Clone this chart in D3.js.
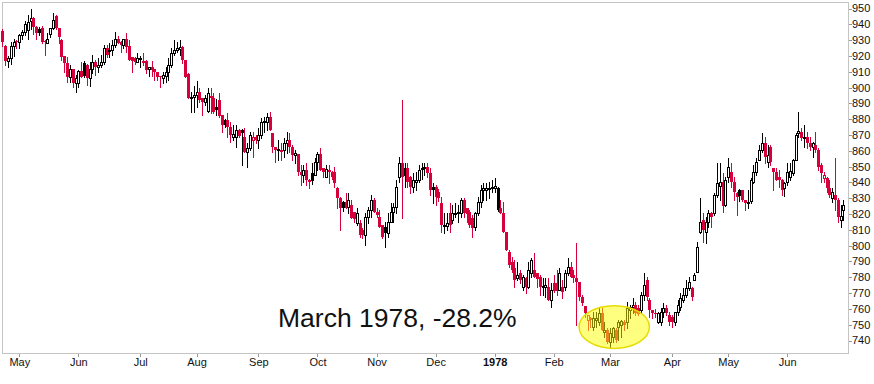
<!DOCTYPE html>
<meta charset="utf-8">
<head>
<style>
body { margin: 0; background: #fff; }
svg { display: block; font-family: "Liberation Sans", Arial, sans-serif; }
</style>
<script src="https://d3js.org/d3.v7.min.js"></script>
</head>
<body>
<svg id="chart" width="874" height="384"></svg>
<script>

// daily bars, [open, high, low, close], late Apr 1977 -> late Jun 1978
var prices = [
  [936,937,926,929],[926,927,914,917],[917,920,913,918.5],[918.5,929,915,926],[926,931,920,929],
  [929.5,930,925,928.5],[929,934,925,933],[933,936.5,931,935],[935,942,933,940.5],[936.5,946,931,941.5],
  [942,949.5,937,944],[944,944.5,934,938.5],[938.5,939,931,934.3],[937,938,933,934.5],[937.4,939,928.4,929],
  [929.5,930,920.6,928.5],[928,934.3,928,930.5],[933.7,937.4,932,937.4],[937.4,947.4,937,942.7],[945.3,946,937,937.4],
  [937.4,937.5,928,932.2],[930,930.5,917.4,919.5],[920,920,910,915.3],[915.3,919.5,903.7,906.9],[906.9,914.3,903.7,911.7],
  [911.5,912,900.6,902.7],[902.7,908,897.4,906],[902.7,911,900.6,910.5],[910.5,916.4,906.9,906.9],[915.7,916.5,906.5,907.5],
  [914,915,901.6,906],[906,916.4,901,912],[912,920.6,909,916.4],[916.4,917.4,908,913.2],[913.2,918.5,910,914.3],
  [914.3,920.6,913.2,916.4],[916.4,927,915,924.8],[924.8,927,919.5,920.6],[923,928,919.5,924],[923.8,930,920.6,927],
  [927,935.3,925.9,930.5],[930.5,932.6,928,928],[929,929.5,922.7,927],[927,931,925,931],[931,934.3,922.7,925.9],
  [926,930,917.4,917.4],[919.5,919.5,910,916.9],[919,919.5,915,916.4],[916.4,921.6,916,918.5],[918,920,913,918.8],
  [916.8,922,914.3,917],[917,917.4,909,911],[911.5,913.2,907,913.2],[913,917,907,911],[912,912,904.8,910],
  [910,910,904.8,906.9],[907.3,907.5,900.6,906.5],[906,910,903,908],[907.3,913.2,903.7,910],[910,918.5,904.8,914.3],
  [914.3,924.8,913.2,921.6],[921.6,930,920.6,923.8],[923.8,929,922.7,924.8],[924.3,930,920.6,925.9],[925.9,926,915.3,917.4],
  [917.4,917.5,906.9,906.9],[908.5,909,893.2,893.2],[893.2,897.4,884.8,894.2],[894.2,901,884.8,895.3],[895.3,904.3,887.9,897.4],
  [897.4,899.5,891,892.1],[893.2,893.2,882.6,891],[891,895,889,893.2],[885,899.5,884.8,896.3],[893.8,900,883.7,894.4],
  [893.2,896.3,883.7,884.7],[888,892.5,882.6,885.5],[892,896.3,881.6,882],[882.6,882.6,872,876.3],[879.5,880,875,876.5],
  [879.5,883.7,869,875.3],[875.3,878.4,865.8,870],[869,876.3,866.8,870.6],[869,876.3,862.6,873.1],[873.1,873.5,869,869.5],
  [873,873.5,851,871],[868.5,874.2,859.4,859.4],[859.4,864.7,850,861.6],[861.6,872.1,860.5,870],[866.8,872.1,856.3,868.9],
  [868.9,870,865,866.8],[866.8,874.2,861.6,870],[870,880.5,867.9,878.4],[878.4,881.6,872.1,878.6],[878.4,883.7,873.1,881.6],
  [881.6,884.7,873.1,873.1],[871,871,859.4,862.6],[862.6,862.6,853.1,860.5],[860.5,866.8,854.2,860.9],[860,864.7,854.2,860.8],
  [860.5,867.9,856.3,864.7],[864.7,872,858.4,866.8],[866.8,871,859.4,862.6],[862.6,863.7,854.2,857.3],[857.3,860.5,852.1,858.3],
  [857.9,858,844.7,846.8],[846.8,850.9,838.4,844.7],[844.7,850.9,840.5,847.8],[847.8,852,838.4,841.6],[841.6,842,836.3,840.5],
  [845.7,852,839,840.8],[845,855.2,844.7,852.6],[852.6,859.4,847.8,857.9],[857.9,861.5,847.8,847.8],[848.8,849,843.6,846.8],
  [843.6,851,843.6,848.3],[847.8,851,839.4,846.3],[846.8,847,842,843.6],[846.8,850,837.3,839.4],[836.3,837.3,823.7,830],
  [829.9,831,809.9,823.6],[827.8,828.5,822,823.8],[827.8,833.1,823.6,823.5],[824.6,833.1,820.4,828.9],[825.7,828.9,817.3,817.3],
  [821.5,821.5,815.1,817],[814.1,823.6,813,820.4],[814.1,816.2,805.7,806.7],[809.9,811,805,806.5],[806.7,820.4,800.4,818.3],
  [818.3,824.6,814.1,822.5],[822.5,832,818.3,828.9],[828.9,830,821.5,821.5],[821.5,823.6,818.3,819.4],[818.3,822.5,812,812],
  [813,813,804.6,805.7],[812,815.1,799.3,807.8],[807.8,820.4,805.7,815.1],[815.1,826.7,815.1,821.5],[821.5,826.7,815.1,824.6],
  [824.6,841.5,820.4,837.3],[843.6,856.3,840.5,852.1],[852.1,892.1,817.3,843.6],[848.9,852.1,837.3,844],[848.9,852.1,837.3,840.5],
  [843.6,844,833.1,837.3],[837.3,845.7,834.1,841.5],[840.5,846.7,835.2,841.6],[841.5,850.9,840.5,847.8],[848.3,852.1,842,848.9],
  [848.9,852.1,845,849.9],[849.9,852.1,843.6,845.7],[845.7,848.9,832,835],[837,839.4,826.7,835.5],[837.3,838.3,825.7,831],
  [834,836,828,830],[826.7,831,808.8,813],[812.6,820.4,807.8,813],[812.6,820.4,809.9,814.1],[820.4,826.7,808.8,813],
  [816.2,825.7,814.1,820.8],[820.4,826.7,818.3,820.9],[820.4,825.7,815.1,821],[820.4,829.9,818.3,828.9],[828.9,829.9,818.3,820.4],
  [823.6,823.6,815.1,820],[821.5,822.5,812,813],[817.3,819.4,805.7,810.9],[812,821.5,809.9,820.4],[820.4,831,819.4,827.8],
  [827.8,838.3,824.6,835.2],[835.2,839.4,828.9,836.2],[835.5,839.4,828.9,836.4],[836,840.5,829.9,836.5],[836.4,841.5,834.1,837],
  [836.3,843,834,837.5],[836.2,837,822,822.5],[823.6,828.9,820.4,820.4],[820.4,827.8,808.8,808.8],[808.8,808.8,797.2,797.2],
  [796.2,797.2,786.7,787.7],[789.9,793,783.5,784.6],[785.6,790.9,774,778.3],[779.3,789.9,778.3,781.4],[782.5,784.6,776.1,778.3],
  [774,781.4,771.9,780.4],[779.3,780.4,769.8,774],[774,789.9,773,784.6],[782.5,792,780.4,790.9],[784.6,795.1,780.4,780.4],
  [782.5,783,774,779],[780.4,781.4,768.8,774],[774,779.3,768.8,774.2],[774,779.3,767.7,775],[774,779.3,765.6,765.6],
  [765.6,776.1,761.4,771.9],[776.1,781.4,770.9,771.5],[776.1,784.6,768.8,771],[771.9,785.6,771.9,782.5],[774,778.3,766.7,770.9],
  [774,784.6,771.9,782.5],[782.5,792,781.4,786.5],[786.5,789.9,780.4,780.4],[781.4,784.6,777.2,779.3],[779.3,801.4,749.8,777.2],
  [777.2,777.2,765.6,767.7],[767.7,768.8,762.5,763.5],[761.9,762,755.1,757.2],[753,756.1,746.6,756],[754,755.1,748.8,753],
  [748.8,758.3,746.6,754],[753,758.3,748.8,754.2],[751.9,761.4,749.8,757.2],[757.2,760.4,746.6,746.6],[745.6,751.9,742.4,746.8],
  [746.6,747.7,738.2,739.3],[739.3,747.7,735.1,744.5],[742.4,748.8,739.3,747.7],[746.6,747.7,739.3,740.3],[748.8,753,740.3,751.9],
  [749.8,753,742.4,752.2],[751.9,753,746.6,749.8],[751.9,764.6,747.7,760.4],[759.3,762.5,754,761.4],[761.4,766.7,757.2,762.5],
  [762.5,764.6,756.1,757.2],[760.4,762.5,756.1,757],[759.3,770.9,757.2,768.8],[768.8,782.5,765.6,775.1],[778.3,780,765.6,767.7],
  [765.6,766.7,755.1,759.3],[759.3,759.3,754,757.2],[757.5,760,755,757],[752,758.3,750.9,757.2],[751.9,760.4,749.8,758.3],
  [758.3,763.5,755.1,760.4],[760.4,762.5,756.1,757.2],[756.1,758.3,749.8,751.9],[755.1,756.1,748.8,751.5],[751.9,758.3,749.8,758.3],
  [758.3,765.6,756.1,762.5],[761.4,769.8,759.3,766.7],[765.6,773,764.6,768.8],[768.8,778.3,767.7,773],[773,780.4,771.9,777.2],
  [773,774.1,765.6,767.7],[778.3,782.5,778.3,781.4],[783.5,802.5,783.5,799.3],[808.8,829.9,807.8,815.1],[816.2,820.4,802.5,809.9],
  [808.8,818.3,801.4,815.1],[815.1,822.5,812,820.4],[820.4,821.5,812,818.3],[820.4,833.1,819.4,832],[832,852,831,839.4],
  [838,852,829,840.5],[840.5,845.7,821.5,825],[826,843.6,825,841.5],[843.6,855.2,840.5,849.9],[846.8,852.1,837.3,840.5],
  [840.5,843.6,828.9,834.1],[833.1,834,819.4,831],[835.2,836,828,831.5],[835,835.2,828,829],[828.9,829,822.5,826.7],
  [826.7,835.2,823.6,827.8],[828,843,827,841.5],[840.5,851,839.4,846.8],[846.8,855.2,844.7,853.1],[854.2,863.7,854.2,860.5],
  [860.5,871,859.4,864.7],[864.7,868.9,852,856.3],[853.1,863.7,850,857.3],[862.6,863.7,851,853.1],[848.9,849,835.2,846.8],
  [846.8,848.9,841.5,841.5],[843.6,847.8,837.3,841.3],[841.5,842,832,835.2],[836.5,840,831.1,839.4],[840.5,852.1,838.4,846.8],
  [843.6,852.1,841.5,846.9],[845.7,855,844.7,854.2],[854.2,871,854.2,870],[871,884.7,869,872.5],[872.1,874.2,866.8,867.9],
  [867.9,876.3,862.6,868.9],[868.9,872.1,861.6,864.7],[864.7,868.9,860.5,862.6],[862.6,865.8,856.3,864.7],[863.7,872.1,859.4,860.5],
  [860.5,861.6,847.8,849.9],[851,852.1,840.5,845.7],[842.6,846.8,840.5,844.7],[842.6,843.6,834.1,836.3],[836.2,841.5,831,832],
  [829.9,836.2,827.8,834.1],[832,855.2,822.5,828.9],[828.9,829.9,815.1,818.3],[816,825.7,812,819],[822.5,828.9,816.2,825.7]
];

// first bar of each month
var monthLabels = ["May","Jun","Jul","Aug","Sep","Oct","Nov","Dec","1978","Feb","Mar","Apr","May","Jun"];
var monthStarts = [6, 27, 49, 69, 91, 112, 133, 154, 175, 196, 216, 238, 258, 279];

var yTicks = [740,750,760,770,780,790,800,810,820,830,840,850,860,870,880,890,900,910,920,930,940,950];

// bars drawn black although close is below the previous close
var blackBars = [176];

var noteText = "March 1978, -28.2%";
var noteSpot = {from: 205, to: 230, low: 735, high: 762};

var red = "#d6003b";

var svg = d3.select("#chart");

var x = d3.scaleLinear().domain([-0.15, 300.6]).range([2, 848]);
var y = d3.scaleLinear().domain([740, 950]).range([340.5, 8.5]);

var plotL = 2.5, plotR = 848.5, plotT = 2.5, plotB = 353.5;

// frame
svg.append("rect")
    .attr("x", plotL).attr("y", plotT)
    .attr("width", plotR - plotL).attr("height", plotB - plotT)
    .attr("fill", "none")
    .attr("stroke", "#c4c4c4")
    .attr("shape-rendering", "crispEdges");

// right axis
var yAxis = svg.append("g");
yAxis.selectAll("line").data(yTicks).enter().append("line")
    .attr("x1", plotR).attr("x2", plotR + 3)
    .attr("y1", function(d){ return Math.round(y(d)) + 0.5; })
    .attr("y2", function(d){ return Math.round(y(d)) + 0.5; })
    .attr("stroke", "#999")
    .attr("shape-rendering", "crispEdges");
yAxis.selectAll("text").data(yTicks).enter().append("text")
    .attr("x", 852)
    .attr("y", function(d){ return y(d); })
    .attr("dy", "0.36em")
    .attr("font-size", "11px")
    .attr("fill", "#111")
    .text(function(d){ return d; });

// month axis
var xAxis = svg.append("g");
xAxis.selectAll("line").data(monthStarts).enter().append("line")
    .attr("x1", function(d){ return Math.round(x(d)) + 0.5; })
    .attr("x2", function(d){ return Math.round(x(d)) + 0.5; })
    .attr("y1", plotB).attr("y2", plotB + 3)
    .attr("stroke", "#999")
    .attr("shape-rendering", "crispEdges");
xAxis.selectAll("text").data(monthLabels).enter().append("text")
    .attr("x", function(d, i){ return x(monthStarts[i]) + 0.5; })
    .attr("y", 366)
    .attr("text-anchor", "middle")
    .attr("font-size", "11px")
    .attr("font-weight", function(d){ return d == "1978" ? "bold" : "normal"; })
    .attr("fill", "#111")
    .text(function(d){ return d; });

// candles
var bars = prices.map(function(p, i){
  var prev = i > 0 ? prices[i-1][3] : p[0];
  return {i: i, o: p[0], h: p[1], l: p[2], c: p[3],
          up: p[3] >= prev || blackBars.indexOf(i) >= 0,
          hollow: p[3] > p[0]};
});

var g = svg.append("g").attr("shape-rendering", "crispEdges");

var bar = g.selectAll(".bar").data(bars).enter().append("g").attr("class", "bar");

bar.append("line")
    .attr("x1", function(d){ return Math.round(x(d.i)) + 0.5; })
    .attr("x2", function(d){ return Math.round(x(d.i)) + 0.5; })
    .attr("y1", function(d){ return Math.round(y(Math.max(d.h, d.o, d.c))); })
    .attr("y2", function(d){ return Math.round(y(Math.min(d.l, d.o, d.c))) + 1; })
    .attr("stroke", function(d){ return d.up ? "#000" : red; })
    .attr("stroke-width", 1);

bar.each(function(d){
  var px = Math.round(x(d.i));
  var top = Math.round(y(Math.max(d.o, d.c)));
  var bot = Math.round(y(Math.min(d.o, d.c)));
  var col = d.up ? "#000" : red;
  var sel = d3.select(this);
  if (d.hollow && bot - top >= 2) {
    sel.append("rect")
      .attr("x", px - 0.5).attr("y", top + 0.5)
      .attr("width", 2).attr("height", bot - top)
      .attr("fill", "#fff")
      .attr("stroke", col)
      .attr("stroke-width", 1);
  } else {
    sel.append("rect")
      .attr("x", px - 1).attr("y", top)
      .attr("width", 3).attr("height", Math.max(bot - top, 1) + (d.hollow ? 1 : 0))
      .attr("fill", col);
  }
});

// highlight of the low
var cx = (x(noteSpot.from) + x(noteSpot.to)) / 2,
    cy = (y(noteSpot.low) + y(noteSpot.high)) / 2;
svg.append("ellipse")
    .attr("cx", cx).attr("cy", cy)
    .attr("rx", (x(noteSpot.to) - x(noteSpot.from)) / 2)
    .attr("ry", (y(noteSpot.low) - y(noteSpot.high)) / 2)
    .attr("fill", "#ffff00")
    .attr("fill-opacity", 0.5)
    .attr("stroke", "#e6dc00")
    .attr("stroke-width", 1.5);

svg.append("text")
    .attr("x", 278)
    .attr("y", 327)
    .attr("font-size", "26.5px")
    .attr("fill", "#111")
    .text(noteText);

</script>
</body>
